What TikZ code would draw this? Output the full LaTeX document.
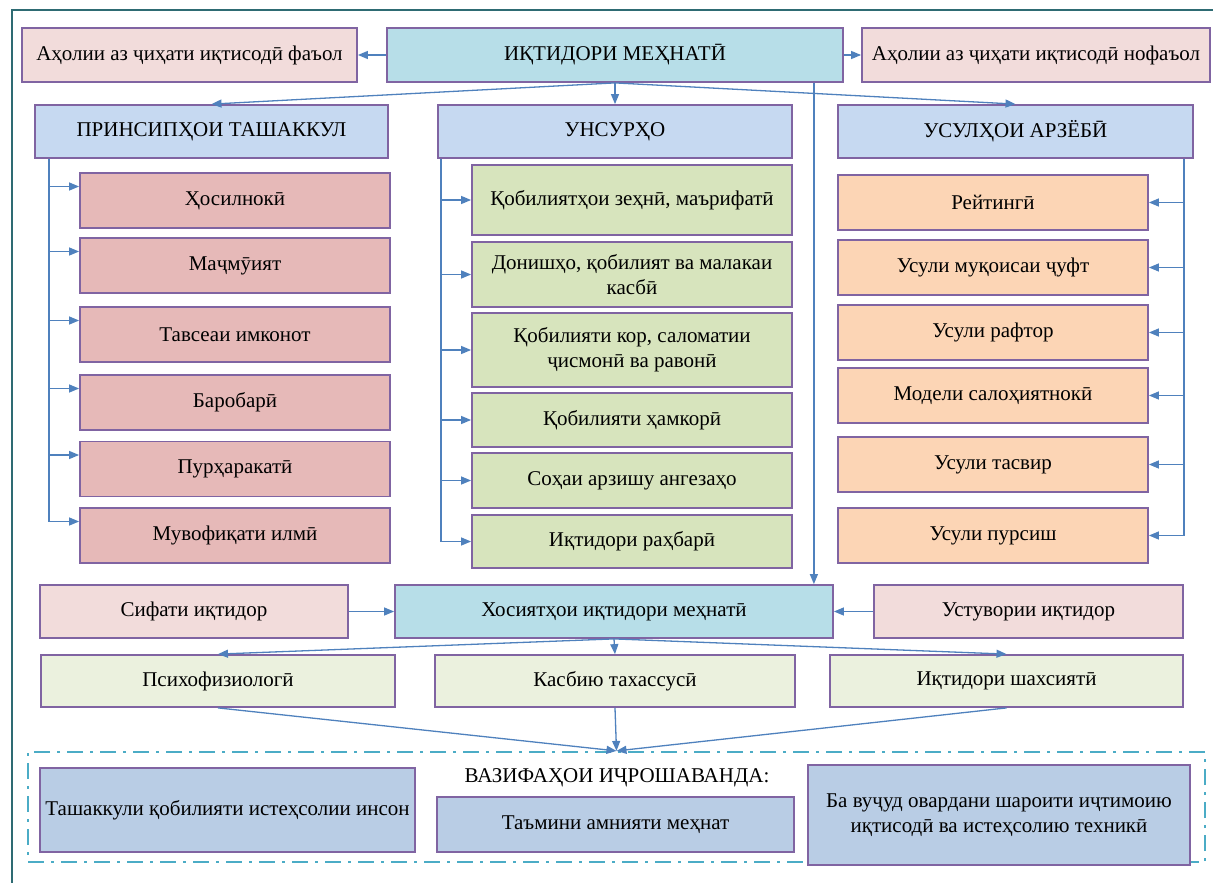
\documentclass[tikz,border=0pt]{standalone}
\usepackage{fontspec}
\setmainfont{Liberation Serif}
\usetikzlibrary{arrows.meta}

\definecolor{boxline}{HTML}{8064A2}
\definecolor{arrowblue}{HTML}{4F81BD}
\definecolor{rosefill}{HTML}{F2DCDB}
\definecolor{cyanfill}{HTML}{B7DEE8}
\definecolor{headfill}{HTML}{C6D9F1}
\definecolor{redfill}{HTML}{E6B9B8}
\definecolor{greenfill}{HTML}{D7E4BD}
\definecolor{orangefill}{HTML}{FCD5B5}
\definecolor{palefill}{HTML}{EBF1DE}
\definecolor{taskfill}{HTML}{B9CDE5}
\definecolor{dashteal}{HTML}{4BACC6}
\definecolor{frameteal}{HTML}{2E6B73}

\begin{document}
\begin{tikzpicture}[>={Triangle[length=10pt,width=8pt]},x=1pt,y=-1pt,
	box/.style={draw=boxline,line width=1.8pt,inner sep=2pt,align=center,font=\fontsize{21}{25}\selectfont},
	link/.style={draw=arrowblue,line width=1.3pt}]
				\useasboundingbox (0,0) rectangle (1213,883);
				\draw[frameteal,line width=2.4pt] (1213,10) -- (12,10) -- (12,883);
				
				% top row
				\node[box,fill=rosefill,minimum width=335pt,minimum height=54pt] (faol) at (189.5,55) {Аҳолии аз ҷиҳати иқтисодӣ фаъол};
				\node[box,fill=cyanfill,minimum width=456pt,minimum height=54pt] (iqtidor) at (615,55) {ИҚТИДОРИ МЕҲНАТӢ};
				\node[box,fill=rosefill,minimum width=348pt,minimum height=54pt] (nofaol) at (1036,55) {Аҳолии аз ҷиҳати иқтисодӣ нофаъол};
				\draw[link,->] (iqtidor) -- (faol);
				\draw[link,->] (iqtidor) -- (nofaol);
				
				% three heads
				\node[box,fill=headfill,minimum width=353pt,minimum height=53pt] (prin) at (211.5,131.5) {ПРИНСИПҲОИ ТАШАККУЛ};
				\node[box,fill=headfill,minimum width=354pt,minimum height=53pt] (unsur) at (615,131.5) {УНСУРҲО};
				\node[box,fill=headfill,minimum width=355pt,minimum height=53pt] (usul) at (1015.5,131.5) {УСУЛҲОИ АРЗЁБӢ};
				\draw[link,->] (iqtidor.south) -- (prin.north);
				\draw[link,->] (iqtidor.south) -- (unsur.north);
				\draw[link,->] (iqtidor.south) -- (usul.north);
				
				% left column
				\foreach \n/\y/\t in {1/200.5/Ҳосилнокӣ, 2/265.5/Маҷмӯият, 3/334.5/Тавсеаи имконот,
					4/402.5/Баробарӣ, 5/469/Пурҳаракатӣ, 6/535.5/Мувофиқати илмӣ}{
					\node[box,fill=redfill,minimum width=310pt,minimum height=55pt] (p\n) at (235,\y) {\t};
					\coordinate (pin\n) at ([yshift=14pt]p\n.west);
				}
				\coordinate (ltrunk) at ([xshift=15pt]prin.south west);
				\draw[link] (ltrunk) -- (ltrunk |- pin6);
				\foreach \n in {1,...,6}
					\draw[link,->] (ltrunk |- pin\n) -- (pin\n);
				
				% middle column
				\node[box,fill=greenfill,minimum width=320pt,minimum height=70pt] (e1) at (632,200) {Қобилиятҳои зеҳнӣ, маърифатӣ};
				\node[box,fill=greenfill,minimum width=320pt,minimum height=65pt] (e2) at (632,274.5) {Донишҳо, қобилият ва малакаи\\касбӣ};
				\node[box,fill=greenfill,minimum width=320pt,minimum height=74pt] (e3) at (632,350) {Қобилияти кор, саломатии\\ҷисмонӣ ва равонӣ};
				\node[box,fill=greenfill,minimum width=320pt,minimum height=54pt] (e4) at (632,420) {Қобилияти ҳамкорӣ};
				\node[box,fill=greenfill,minimum width=320pt,minimum height=55pt] (e5) at (632,480.5) {Соҳаи арзишу ангезаҳо};
				\node[box,fill=greenfill,minimum width=320pt,minimum height=53pt] (e6) at (632,541.5) {Иқтидори раҳбарӣ};
				\coordinate (mtrunk) at ([xshift=4pt]unsur.south west);
				\draw[link] (mtrunk) -- (mtrunk |- e6.west);
				\foreach \n in {1,...,6}
					\draw[link,->] (mtrunk |- e\n.west) -- (e\n.west);
				
				% right column
				\foreach \n/\y/\t in {1/202.5/Рейтингӣ, 2/267.5/Усули муқоисаи ҷуфт, 3/332.5/Усули рафтор,
					4/395.5/Модели салоҳиятнокӣ, 5/464.5/Усули тасвир, 6/535.5/Усули пурсиш}
					\node[box,fill=orangefill,minimum width=310pt,minimum height=55pt] (m\n) at (993,\y) {\t};
				\coordinate (rtrunk) at ([xshift=-10pt]usul.south east);
				\draw[link] (rtrunk) -- (rtrunk |- m6.east);
				\foreach \n in {1,...,6}
					\draw[link,->] (rtrunk |- m\n.east) -- (m\n.east);
				
				% properties
				\node[box,fill=rosefill,minimum width=308pt,minimum height=53pt] (sifat) at (194,611.5) {Сифати иқтидор};
				\node[box,fill=cyanfill,minimum width=438pt,minimum height=53pt] (xos) at (614,611.5) {Хосиятҳои иқтидори меҳнатӣ};
				\node[box,fill=rosefill,minimum width=309pt,minimum height=53pt] (ustuv) at (1028.5,611.5) {Устувории иқтидор};
				\draw[link,->] (sifat) -- (xos);
				\draw[link,->] (ustuv) -- (xos);
				\coordinate (side) at ([xshift=-30pt]iqtidor.south east);
				\draw[link,->] (side) -- (side |- xos.north);
				
				\node[box,fill=palefill,minimum width=354pt,minimum height=52pt] (psix) at (218,681) {Психофизиологӣ};
				\node[box,fill=palefill,minimum width=360pt,minimum height=52pt] (kasb) at (615,681) {Касбию тахассусӣ};
				\node[box,fill=palefill,minimum width=353pt,minimum height=52pt] (shax) at (1006.5,681) {Иқтидори шахсиятӣ};
				\draw[link,->] (xos.south) -- (psix.north);
				\draw[link,->] (xos.south) -- (kasb.north);
				\draw[link,->] (xos.south) -- (shax.north);
				
				% tasks
				\node[draw=dashteal,line width=2.2pt,dash pattern=on 16pt off 7pt on 3pt off 7pt,
					minimum width=1177pt,minimum height=110pt] (tasks) at (616.5,807) {};
				\node[font=\fontsize{21}{25}\selectfont] (vazifa) at (617,778) {ВАЗИФАҲОИ ИҶРОШАВАНДА:};
				\node[box,fill=taskfill,minimum width=375pt,minimum height=84pt] (tash) at (227.5,810) {Ташаккули қобилияти истеҳсолии инсон};
				\node[box,fill=taskfill,minimum width=357pt,minimum height=55pt] (tamin) at (615.5,824.5) {Таъмини амнияти меҳнат};
				\node[box,fill=taskfill,minimum width=382pt,minimum height=100pt] (bavujud) at (999,815) {Ба вуҷуд овардани шароити иҷтимоию\\иқтисодӣ ва истеҳсолию техникӣ};
				\draw[link,->] (psix.south) -- (tasks.north);
				\draw[link,->] (kasb.south) -- (tasks.north);
				\draw[link,->] (shax.south) -- (tasks.north);
\end{tikzpicture}
\end{document}
